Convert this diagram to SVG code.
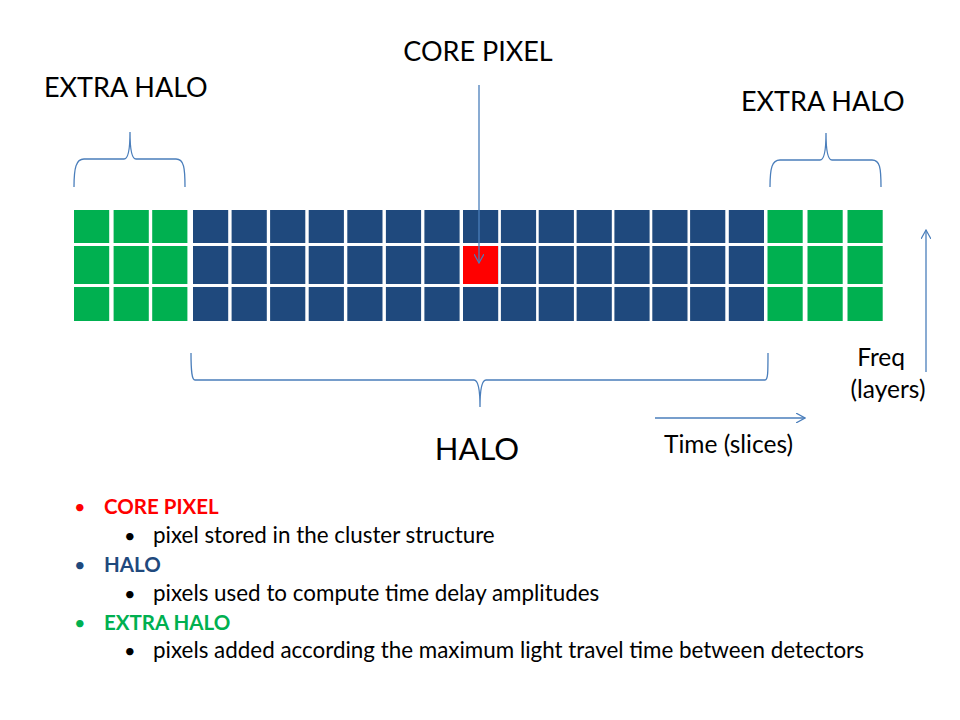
<svg xmlns="http://www.w3.org/2000/svg" width="960" height="720" viewBox="0 0 960 720">
<style>
text{font-family:Lato,"Open Sans","Liberation Sans",sans-serif;fill:#000}
.g{fill:#00B050}.b{fill:#1F497D}.r{fill:#FF0000}
.br{fill:none;stroke:#4A7EBB;stroke-width:1.3}
.ar{fill:none;stroke:#4A7EBB;stroke-width:1.3}
.lbl{font-size:27px}
.ax{font-size:24.5px}
.li{font-size:22.4px}
.bu{font-size:20px}
.hd{font-size:20.5px;font-weight:bold}
</style>
<defs>
<marker id="open" viewBox="0 0 10 10" refX="9" refY="5" markerWidth="10" markerHeight="10" markerUnits="userSpaceOnUse" orient="auto">
<path d="M0,0 L9,5 L0,10" fill="none" stroke="#4A7EBB" stroke-width="1.2"/>
</marker>
<symbol id="col" overflow="visible"><rect x="0" y="0" width="35.2" height="33"/><rect x="0" y="36" width="35.2" height="38"/><rect x="0" y="77" width="35.2" height="34"/></symbol>
</defs>
<g id="grid">
<g class="g"><use href="#col" x="74" y="210"/><use href="#col" x="113.6" y="210"/><use href="#col" x="152.2" y="210"/></g>
<g class="b">
<use href="#col" x="193" y="210"/><use href="#col" x="231.6" y="210"/><use href="#col" x="270.1" y="210"/><use href="#col" x="308.7" y="210"/><use href="#col" x="347.3" y="210"/><use href="#col" x="385.9" y="210"/><use href="#col" x="424.4" y="210"/><use href="#col" x="463" y="210"/><use href="#col" x="500.9" y="210"/><use href="#col" x="538.7" y="210"/><use href="#col" x="576.6" y="210"/><use href="#col" x="614.4" y="210"/><use href="#col" x="652.3" y="210"/><use href="#col" x="690.1" y="210"/><use href="#col" x="728.8" y="210"/>
</g>
<g class="g"><use href="#col" x="767.5" y="210"/><use href="#col" x="807.5" y="210"/><use href="#col" x="847.5" y="210"/></g>
<rect id="core" class="r" x="463" y="246" width="35" height="38"/>
</g>
<g id="labels">
<text class="lbl" x="478" y="61" text-anchor="middle">CORE PIXEL</text>
<text class="lbl" x="44" y="97">EXTRA HALO</text>
<text class="lbl" x="741" y="111">EXTRA HALO</text>
<text x="477" y="460" text-anchor="middle" style="font-size:31px">HALO</text>
<text class="ax" x="905" y="366" text-anchor="end">Freq</text>
<text class="ax" x="888" y="398" text-anchor="middle">(layers)</text>
<text class="ax" x="664" y="453">Time (slices)</text>
</g>
<g id="connectors">
<path class="br" d="M74,187 C74,168 76,159 84,159 L124,159 C128,159 130,150 130,132 C130,150 132,159 136,159 L176,159 C184,159 185,168 185,187"/>
<path class="br" d="M770,187 C770,168 772,160 780,160 L820,160 C824,160 826,151 826,133 C826,151 828,160 832,160 L872,160 C880,160 881,168 881,187"/>
<path class="br" d="M191,353 C191,372 192,380 195,380 L474,380 C478,380 480,388 480,407 C480,388 482,380 486,380 L765,380 C768,380 768,372 768,353"/>
<line class="ar" x1="479" y1="85" x2="479" y2="263" marker-end="url(#open)"/>
<line class="ar" x1="655" y1="418" x2="805" y2="418" marker-end="url(#open)"/>
<line class="ar" x1="926" y1="372" x2="926" y2="230" marker-end="url(#open)"/>
</g>
<g id="legend">
<text class="bu r" x="74" y="514">•</text>
<text class="hd r" x="104" y="514">CORE PIXEL</text>
<text class="bu" x="124" y="543">•</text>
<text class="li" x="153" y="543">pixel stored in the cluster structure</text>
<text class="bu b" x="74" y="572">•</text>
<text class="hd b" x="104" y="572">HALO</text>
<text class="bu" x="124" y="601">•</text>
<text class="li" x="153" y="601">pixels used to compute time delay amplitudes</text>
<text class="bu g" x="74" y="630">•</text>
<text class="hd g" x="104" y="630">EXTRA HALO</text>
<text class="bu" x="124" y="658">•</text>
<text class="li" x="153" y="658">pixels added according the maximum light travel time between detectors</text>
</g>
</svg>
